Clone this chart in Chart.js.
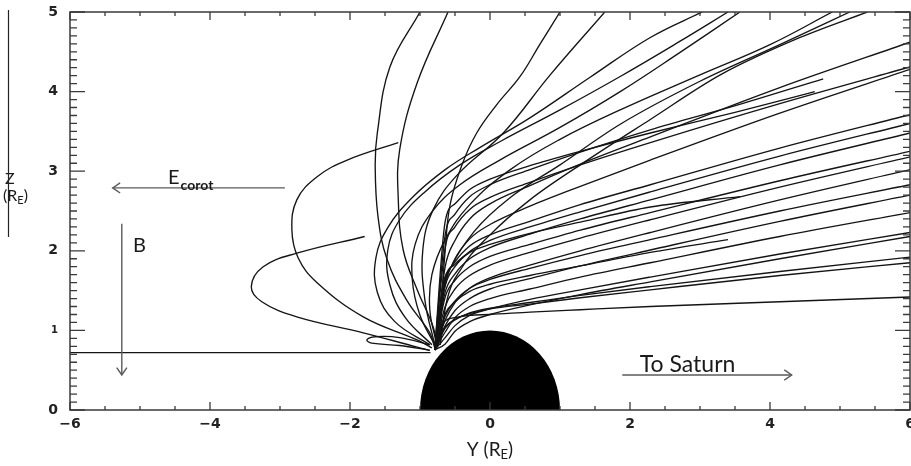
<!DOCTYPE html>
<html><head><meta charset="utf-8">
<script src="https://cdn.jsdelivr.net/npm/chart.js@4.4.1/dist/chart.umd.min.js"></script>
<style>html,body{margin:0;padding:0;background:#fff;}#wrap{width:911px;height:466px;}</style>
</head><body><div id="wrap"><canvas id="c" width="911" height="466"></canvas></div>
<script>
// ---- axes ----
const xTickValues = [-6, -4, -2, 0, 2, 4, 6];
const yTickValues = [0, 1, 2, 3, 4, 5];

// ---- trajectories: [Y, Z] in R_E ----
const loopTrajectories = [
  [[-0.86,0.75],[-1.04,0.79],[-1.81,0.97],[-2.76,1.17],[-3.26,1.36],[-3.41,1.55],[-3.24,1.80],[-2.76,1.97],[-1.79,2.18]],
  [[-0.83,0.78],[-1.04,0.88],[-1.81,1.17],[-2.47,1.60],[-2.74,1.91],[-2.83,2.26],[-2.76,2.64],[-2.47,2.93],[-2.04,3.14],[-1.31,3.36]],
  [[-0.86,0.75],[-1.29,0.81],[-1.69,0.84],[-1.76,0.88],[-1.64,0.92],[-1.29,0.91],[-0.86,0.82]]
];
const archTrajectories = [
  [[-0.79,0.78],[-0.86,0.97],[-1.19,1.38],[-1.47,1.89],[-1.60,2.43],[-1.64,3.06],[-1.61,3.48],[-1.43,4.31],[-1.00,5.00]],
  [[-0.76,0.78],[-0.81,1.04],[-1.04,1.51],[-1.24,2.01],[-1.31,2.64],[-1.29,3.27],[-1.04,4.11],[-0.60,5.00]],
  [[-0.71,0.82],[-0.69,1.38],[-0.64,2.01],[-0.57,2.58],[-0.40,3.08],[-0.19,3.48],[0.10,3.84],[0.43,4.19],[0.71,4.59],[1.00,5.00]],
  [[-0.79,0.82],[-0.93,1.38],[-0.96,2.01],[-0.81,2.52],[-0.46,2.96],[0.19,3.48],[0.86,4.21],[1.64,5.00]]
];
const upperTrajectories = [
  [[-0.86,0.82],[-1.36,1.11],[-1.61,1.48],[-1.63,1.91],[-1.46,2.29],[-1.11,2.67],[-0.64,3.02],[-0.14,3.30],[0.57,3.67],[1.43,4.18],[2.29,4.68],[3.03,5.00]],
  [[-0.83,0.82],[-1.21,1.16],[-1.43,1.57],[-1.46,2.01],[-1.29,2.39],[-0.93,2.74],[-0.43,3.08],[0.14,3.37],[1.00,3.77],[1.86,4.19],[2.71,4.63],[3.40,5.00]],
  [[-0.79,0.82],[-1.00,1.19],[-1.11,1.64],[-1.07,2.08],[-0.83,2.49],[-0.43,2.83],[0.14,3.14],[1.00,3.55],[1.86,4.00],[2.71,4.49],[3.57,5.00]],
  [[-0.76,0.82],[-0.86,1.26],[-0.83,1.70],[-0.64,2.14],[-0.29,2.58],[0.29,3.02],[1.00,3.40],[1.86,3.77],[3.00,4.21],[4.00,4.59],[4.89,5.00]]
];
const upperMonotoneTrajectories = [
  [[-0.74,0.82],[-0.71,1.32],[-0.54,1.82],[-0.21,2.26],[0.29,2.67],[1.00,3.08],[1.86,3.59],[3.00,4.13],[4.14,4.59],[5.14,5.00]],
  [[-0.71,0.82],[-0.63,1.32],[-0.40,1.79],[0.00,2.20],[0.57,2.64],[1.29,3.08],[2.29,3.65],[3.29,4.21],[4.43,4.68],[5.39,5.00]]
];
const fanTrajectories = [
  [[-0.79,0.755],[-0.64,1.80],[-0.50,2.13],[-0.29,2.40],[0,2.59],[0.57,2.82],[1.29,3.09],[2.29,3.43],[4.14,4.05],[6.0,4.62]],
  [[-0.79,0.755],[-0.64,2.04],[-0.50,2.30],[-0.29,2.52],[0,2.67],[0.57,2.86],[1.29,3.08],[2.29,3.36],[4.14,3.85],[6.0,4.31]],
  [[-0.79,0.755],[-0.64,1.58],[-0.50,1.90],[-0.29,2.15],[0,2.33],[0.57,2.56],[1.29,2.81],[2.29,3.14],[4.14,3.73],[6.0,4.28]],
  [[-0.79,0.755],[-0.64,1.62],[-0.50,1.86],[-0.29,2.06],[0,2.20],[0.57,2.37],[1.29,2.58],[2.29,2.83],[4.14,3.29],[6.0,3.71]],
  [[-0.79,0.755],[-0.64,1.56],[-0.50,1.80],[-0.29,1.99],[0,2.13],[0.57,2.30],[1.29,2.49],[2.29,2.74],[4.14,3.19],[6.0,3.60]],
  [[-0.79,0.755],[-0.64,1.48],[-0.50,1.71],[-0.29,1.90],[0,2.04],[0.57,2.21],[1.29,2.40],[2.29,2.64],[4.14,3.08],[6.0,3.48]],
  [[-0.79,0.755],[-0.64,1.42],[-0.50,1.63],[-0.29,1.80],[0,1.93],[0.57,2.08],[1.29,2.26],[2.29,2.48],[4.14,2.88],[6.0,3.25]],
  [[-0.79,0.755],[-0.64,1.30],[-0.50,1.52],[-0.29,1.69],[0,1.82],[0.57,1.98],[1.29,2.16],[2.29,2.39],[4.14,2.80],[6.0,3.18]],
  [[-0.79,0.755],[-0.64,1.13],[-0.50,1.35],[-0.29,1.53],[0,1.66],[0.57,1.82],[1.29,2.00],[2.29,2.23],[4.14,2.64],[6.0,3.02]],
  [[-0.79,0.755],[-0.64,1.18],[-0.50,1.37],[-0.29,1.53],[0,1.64],[0.57,1.78],[1.29,1.94],[2.29,2.14],[4.14,2.50],[6.0,2.83]],
  [[-0.79,0.755],[-0.64,1.06],[-0.50,1.25],[-0.29,1.40],[0,1.52],[0.57,1.65],[1.29,1.81],[2.29,2.01],[4.14,2.37],[6.0,2.70]],
  [[-0.79,0.755],[-0.64,0.98],[-0.50,1.16],[-0.29,1.30],[0,1.40],[0.57,1.52],[1.29,1.67],[2.29,1.85],[4.14,2.18],[6.0,2.48]],
  [[-0.79,0.755],[-0.64,0.91],[-0.50,1.06],[-0.29,1.19],[0,1.27],[0.57,1.39],[1.29,1.51],[2.29,1.67],[4.14,1.96],[6.0,2.23]],
  [[-0.79,0.755],[-0.64,0.83],[-0.50,0.99],[-0.29,1.11],[0,1.20],[0.57,1.32],[1.29,1.45],[2.29,1.61],[4.14,1.90],[6.0,2.18]],
  [[-0.79,0.755],[-0.64,1.03],[-0.50,1.13],[-0.29,1.22],[0,1.28],[0.57,1.35],[1.29,1.44],[2.29,1.55],[4.14,1.74],[6.0,1.92]],
  [[-0.79,0.755],[-0.64,1.04],[-0.50,1.14],[-0.29,1.21],[0,1.27],[0.57,1.33],[1.29,1.41],[2.29,1.51],[4.14,1.69],[6.0,1.85]],
  [[-0.79,0.755],[-0.64,1.12],[-0.50,1.16],[-0.29,1.19],[0,1.20],[0.57,1.23],[1.29,1.26],[2.29,1.30],[4.14,1.36],[6.0,1.42]]
];
const shortTrajectories = [
  [[-0.79,0.755],[-0.64,2.20],[-0.50,2.46],[-0.29,2.68],[0,2.83],[0.57,3.02],[1.29,3.24],[2.29,3.52],[3.53,3.83],[4.76,4.16]],
  [[-0.79,0.755],[-0.64,2.37],[-0.50,2.59],[-0.29,2.77],[0,2.90],[0.57,3.07],[1.29,3.25],[2.29,3.48],[3.50,3.74],[4.64,4.00]],
  [[-0.79,0.755],[-0.64,1.65],[-0.50,1.83],[-0.29,1.98],[0,2.08],[0.57,2.22],[1.29,2.36],[2.29,2.55],[3.57,2.68]],
  [[-0.79,0.755],[-0.64,1.21],[-0.50,1.36],[-0.29,1.49],[0,1.58],[0.57,1.69],[1.29,1.81],[2.29,1.98],[3.40,2.14]]
];
const flatTrajectory = [[-6.0,0.72],[-0.85,0.72]];
const planetRadius = 1;

// ---- annotations (data coords) ----
const arrowCorot = [[-2.93,2.79],[-5.39,2.79]];
const arrowB = [[-5.26,2.34],[-5.26,0.44]];
const arrowSaturn = [[1.89,0.44],[4.31,0.44]];

function mk(t, mono) {
  return {
    data: t.map(p => ({x: p[0], y: p[1]})),
    showLine: true, pointRadius: 0, borderColor: '#141414', borderWidth: 1.35,
    tension: 0.4, fill: false, cubicInterpolationMode: mono ? 'monotone' : 'default'
  };
}
const datasets = [].concat(
  loopTrajectories.map(t => mk(t, false)),
  archTrajectories.map(t => mk(t, false)),
  upperTrajectories.map(t => mk(t, false)),
  upperMonotoneTrajectories.map(t => mk(t, true)),
  fanTrajectories.map(t => mk(t, true)),
  shortTrajectories.map(t => mk(t, true)),
  [mk(flatTrajectory, false)]
);

const LATO = 'Lato, "Open Sans", sans-serif';

function arrow(ctx, x1, y1, x2, y2, head) {
  ctx.beginPath(); ctx.moveTo(x1, y1); ctx.lineTo(x2, y2); ctx.stroke();
  const a = Math.atan2(y2 - y1, x2 - x1);
  ctx.beginPath();
  ctx.moveTo(x2 - head * Math.cos(a - 0.6), y2 - head * Math.sin(a - 0.6));
  ctx.lineTo(x2, y2);
  ctx.lineTo(x2 - head * Math.cos(a + 0.6), y2 - head * Math.sin(a + 0.6));
  ctx.stroke();
}

const decor = {
  id: 'decor',
  afterDatasetsDraw(chart) {
    const {ctx, chartArea: ca, scales: {x, y}} = chart;
    const px = v => x.getPixelForValue(v), py = v => y.getPixelForValue(v);
    ctx.save();
    // planet
    ctx.fillStyle = '#000';
    ctx.beginPath();
    const rx = px(planetRadius) - px(0), ry = py(0) - py(planetRadius);
    ctx.ellipse(px(0), py(0), rx, ry, 0, Math.PI, 2 * Math.PI);
    ctx.closePath(); ctx.fill();
    // frame
    ctx.strokeStyle = '#3a3a3a'; ctx.lineWidth = 1.5;
    ctx.strokeRect(ca.left, ca.top, ca.right - ca.left, ca.bottom - ca.top);
    // ticks
    ctx.lineWidth = 1.3;
    ctx.beginPath();
    for (let v = -6; v <= 6.001; v += 0.5) {
      const major = Math.abs(v % 2) < 1e-6;
      const L = major ? 8 : 4; const X = px(v);
      ctx.moveTo(X, ca.bottom); ctx.lineTo(X, ca.bottom - L);
      ctx.moveTo(X, ca.top); ctx.lineTo(X, ca.top + L);
    }
    for (let i = 0; i <= 50; i++) {
      const v = i / 10; const major = i % 10 === 0;
      const L = major ? 15 : 7; const Y = py(v);
      ctx.moveTo(ca.left, Y); ctx.lineTo(ca.left + L, Y);
      ctx.moveTo(ca.right, Y); ctx.lineTo(ca.right - L, Y);
    }
    ctx.stroke();
    // annotation arrows
    ctx.strokeStyle = '#5a5a5a'; ctx.lineWidth = 1.4;
    arrow(ctx, px(arrowCorot[0][0]), py(arrowCorot[0][1]), px(arrowCorot[1][0]), py(arrowCorot[1][1]), 9);
    arrow(ctx, px(arrowB[0][0]), py(arrowB[0][1]), px(arrowB[1][0]), py(arrowB[1][1]), 9);
    arrow(ctx, px(arrowSaturn[0][0]), py(arrowSaturn[0][1]), px(arrowSaturn[1][0]), py(arrowSaturn[1][1]), 9);
    // annotation text
    ctx.fillStyle = '#1a1a1a'; ctx.textBaseline = 'alphabetic'; ctx.textAlign = 'left';
    ctx.font = '20px ' + LATO;
    const ex = px(-4.6), ey = py(2.84);
    ctx.fillText('E', ex, ey);
    const ew = ctx.measureText('E').width;
    ctx.font = 'bold 14px ' + LATO;
    ctx.fillText('corot', ex + ew + 1, ey + 6);
    ctx.font = '20px ' + LATO;
    ctx.fillText('B', px(-5.1), py(1.99));
    ctx.font = '23px ' + LATO;
    ctx.fillText('To Saturn', px(2.14), py(0.48));
    // axis titles
    const yt = 'Y (R', ytE = 'E', ytc = ')';
    ctx.font = '19px ' + LATO; const w1 = ctx.measureText(yt).width;
    ctx.font = '13px ' + LATO; const w2 = ctx.measureText(ytE).width;
    ctx.font = '19px ' + LATO; const w3 = ctx.measureText(ytc).width;
    let sx = (ca.left + ca.right) / 2 - (w1 + w2 + w3) / 2; const sb = 456;
    ctx.fillText(yt, sx, sb);
    ctx.font = '13px ' + LATO; ctx.fillText(ytE, sx + w1, sb + 3);
    ctx.font = '19px ' + LATO; ctx.fillText(ytc, sx + w1 + w2, sb);
    // Z title
    ctx.font = '16px ' + LATO;
    ctx.fillText('Z', 5, 184);
    const r1 = ctx.measureText('(R').width;
    ctx.fillText('(R', 3, 201);
    ctx.font = '11px ' + LATO; const r2 = ctx.measureText('E').width;
    ctx.fillText('E', 3 + r1, 204);
    ctx.font = '16px ' + LATO; ctx.fillText(')', 3 + r1 + r2, 201);
    // vertical rule at left
    ctx.strokeStyle = '#222'; ctx.lineWidth = 1.2;
    ctx.beginPath(); ctx.moveTo(8.5, 10); ctx.lineTo(8.5, 237); ctx.stroke();
    ctx.restore();
  }
};

new Chart(document.getElementById('c'), {
  type: 'scatter',
  data: { datasets },
  options: {
    responsive: false, animation: false, devicePixelRatio: 1,
    layout: { padding: { left: 0, right: 1, top: 12, bottom: 0 } },
    plugins: { legend: { display: false }, tooltip: { enabled: false } },
    scales: {
      x: {
        type: 'linear', min: -6, max: 6,
        afterBuildTicks: s => { s.ticks = xTickValues.map(v => ({value: v})); },
        afterFit: s => { s.height = 56; s.paddingLeft = 0; s.paddingRight = 0; },
        grid: { display: false, drawTicks: false }, border: { display: false },
        ticks: { padding: 6, color: '#222', maxRotation: 0, autoSkip: false,
          font: { family: '"DejaVu Sans"', weight: 'bold', size: 14 },
          callback: v => (v < 0 ? '\u2212' + Math.abs(v) : String(v)) }
      },
      y: {
        type: 'linear', min: 0, max: 5,
        afterBuildTicks: s => { s.ticks = yTickValues.map(v => ({value: v})); },
        afterFit: s => { s.width = 70; s.paddingTop = 0; s.paddingBottom = 0; },
        grid: { display: false, drawTicks: false }, border: { display: false },
        ticks: { padding: 12, color: '#222', autoSkip: false,
          font: c => ({ family: '"DejaVu Sans"', weight: 'bold', size: (c.tick && c.tick.value === 1) ? 10 : 14 }),
          callback: v => String(v) }
      }
    }
  },
  plugins: [decor]
});
</script></body></html>
